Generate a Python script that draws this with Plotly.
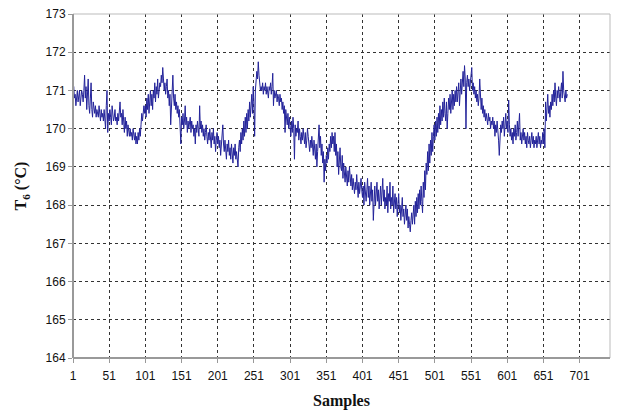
import plotly.graph_objects as go

# Samples 1..684, temperature T6 (°C)
t6_values = [
    171.0, 171.1, 170.8, 170.9, 170.6, 170.8, 171.0, 170.7, 170.9, 171.0,
    170.6, 170.8, 171.0, 170.9, 170.7, 171.0, 171.4, 170.8, 171.1, 170.5,
    170.9, 171.3, 170.6, 170.4, 170.8, 171.2, 170.5, 170.3, 170.7, 170.5,
    170.4, 170.6, 170.3, 170.5, 170.4, 170.3, 170.6, 170.4, 170.2, 170.5,
    170.3, 170.4, 170.2, 170.5, 170.3, 170.0, 170.6, 171.0, 169.9, 170.4,
    170.2, 170.5, 170.3, 170.1, 170.6, 170.4, 170.2, 170.3, 170.5, 170.2,
    170.3, 170.1, 170.4, 170.2, 170.5, 170.7, 170.3, 170.4, 170.1, 170.5,
    170.2, 169.9, 170.3, 170.0, 170.2, 169.8, 170.1, 169.9, 169.8, 170.0,
    169.8, 169.9, 169.7, 170.0, 169.8, 169.7, 169.9, 169.6, 169.8, 169.6,
    169.9, 169.7, 170.0, 169.8, 170.1, 170.4, 170.2, 170.5, 170.6, 170.4,
    170.6, 170.3, 170.8, 170.5, 170.9, 170.4, 170.7, 171.0, 170.6, 170.9,
    170.5, 171.0, 170.8, 171.2, 170.7, 171.1, 170.9, 171.3, 170.8, 171.2,
    171.2, 171.1, 171.4, 171.2, 171.6, 171.3, 171.0, 171.2, 170.9, 171.1,
    171.3, 170.8, 171.0, 170.6, 170.9, 170.1, 170.7, 171.2, 171.4, 170.8,
    170.6, 170.9, 170.5, 170.7, 170.4, 170.6, 170.3, 170.5, 170.2, 169.6,
    170.3, 170.1, 170.4, 170.0, 170.2, 170.6, 170.1, 170.3, 169.9, 170.2,
    170.0, 170.1, 170.3, 169.9, 170.2, 170.0, 170.1, 169.8, 170.0, 169.6,
    170.1, 169.9, 170.2, 170.0, 169.8, 170.6, 170.0, 170.2, 169.9, 170.1,
    169.8, 170.0, 169.7, 169.9, 170.1, 169.8, 169.6, 169.9, 169.7, 170.0,
    169.8, 169.5, 169.9, 169.7, 170.0, 169.6, 169.8, 169.4, 169.7, 169.9,
    169.6, 169.8, 169.5, 169.7, 169.3, 169.6, 169.9, 170.1, 169.6, 169.4,
    169.7, 169.5, 169.2, 169.6, 169.4, 169.7, 169.3, 169.5, 169.2, 169.6,
    169.4, 169.1, 169.5, 169.3, 169.6, 169.2, 169.4, 169.1, 169.0, 169.5,
    169.7, 169.4, 169.9, 169.6, 170.0, 169.7, 170.2, 169.8, 170.3, 169.9,
    170.4, 170.0, 170.5, 170.2, 170.7, 170.3, 170.6, 170.9, 170.4, 171.1,
    170.6, 169.8, 171.0, 171.2, 171.5, 171.3, 171.75, 171.4, 171.2, 171.0,
    171.1, 171.0, 171.2, 170.9, 171.1, 171.0, 171.2, 170.9, 171.1, 171.0,
    170.8, 171.1, 171.0, 171.2, 170.9, 171.1, 171.45, 170.6, 171.0, 170.8,
    170.9, 171.0, 170.7, 170.9, 170.8, 170.6, 170.9, 170.7, 170.8, 170.5,
    170.7, 170.4, 170.6, 169.9, 170.5, 170.3, 170.1, 170.4, 170.0, 170.3,
    170.1, 169.8, 170.2, 169.9, 170.3, 170.0, 169.2, 170.1, 169.8, 170.0,
    169.9, 170.2, 169.7, 170.0, 169.8, 169.6, 169.9, 169.7, 170.0, 169.8,
    169.6, 169.9, 169.5, 169.7, 170.0, 169.8, 169.6, 169.4, 169.7, 169.5,
    169.8, 169.6, 169.3, 169.7, 169.5, 169.2, 169.6, 169.0, 169.4, 169.7,
    170.1, 169.5, 169.8, 169.3, 169.6, 169.1, 169.4, 168.6, 169.2, 168.9,
    169.3, 169.1, 169.5, 169.2, 169.6, 169.4, 169.8, 169.5, 169.9, 169.6,
    169.8, 169.4, 169.9, 169.3, 169.6, 169.0, 169.4, 168.8, 169.2, 169.5,
    169.0, 168.9, 169.3, 168.7, 169.1, 168.9, 168.6, 169.0, 168.8, 168.5,
    168.9, 168.6, 169.0, 168.7, 168.5, 168.8, 168.4, 168.7, 168.5, 168.3,
    168.6, 168.4, 168.8, 168.5, 168.2, 168.6, 168.3, 168.5, 168.7, 168.4,
    168.2, 168.5, 168.0, 168.6, 168.3, 168.1, 168.4, 168.7, 168.2, 168.5,
    168.0, 168.3, 168.6, 168.1, 168.4, 167.6, 168.2, 168.5, 168.0, 168.3,
    168.6, 168.1, 168.4, 167.9, 168.2, 168.5, 168.0, 168.3, 168.7, 168.1,
    168.4, 167.9, 168.2, 168.0, 168.5, 167.8, 168.3, 168.1, 168.6, 167.9,
    168.2, 168.0, 168.5, 167.8, 168.1, 168.3, 167.9, 168.2, 167.7, 168.0,
    168.3, 167.8, 168.0, 167.6, 167.9, 168.2, 167.7, 167.9, 167.5, 167.8,
    168.0, 167.6, 167.9, 167.4, 167.7, 167.5, 167.3, 167.6, 167.8, 167.5,
    167.7, 168.0, 167.5, 168.1, 167.7, 168.2, 167.8, 168.3, 167.9, 168.4,
    168.0, 168.5, 168.1, 167.8, 168.6, 168.2, 168.9, 168.4, 169.1, 168.8,
    169.4, 168.9, 169.6, 169.1, 169.7, 169.3, 169.9, 169.4, 169.8, 170.1,
    169.7, 170.2, 169.8, 170.3, 169.9, 170.4, 170.0, 170.6, 170.1, 170.5,
    170.2, 170.7, 170.3, 170.8, 170.4, 170.2, 170.7, 170.0, 170.4, 170.8,
    170.5, 170.9, 170.4, 170.8, 171.0, 170.5, 170.9, 170.6, 171.0, 170.7,
    171.1, 170.7, 171.0, 171.2, 170.6, 171.1, 171.3, 170.9, 171.2, 171.5,
    171.1, 171.65, 171.3, 170.0, 171.2, 171.4, 171.1, 171.3, 171.0, 171.2,
    171.4, 171.6, 171.0, 171.2, 170.9, 171.1, 170.8, 171.0, 170.7, 170.9,
    170.6, 170.8, 171.3, 170.7, 170.5, 170.8, 170.4, 170.6, 170.3, 170.5,
    170.2, 170.4, 170.3, 170.1, 170.4, 170.2, 170.3, 170.0, 170.2, 170.1,
    170.3, 170.0, 170.2, 169.8, 170.1, 169.9, 170.2, 170.0, 169.7, 169.3,
    169.8, 170.1, 169.9, 170.2, 170.0, 170.3, 169.8, 170.1, 170.4, 170.0,
    170.2, 169.9, 170.75, 170.1, 169.8, 170.0, 169.7, 169.9, 169.6, 170.0,
    169.8, 170.1, 169.7, 169.9, 170.2, 169.8, 170.0, 170.4, 169.7, 169.9,
    169.6, 169.8, 170.0, 169.7, 169.9, 169.6, 169.8, 169.5, 169.9, 169.7,
    169.6, 169.8, 169.5, 169.7, 169.9, 169.6, 169.8, 169.5, 169.7, 169.6,
    169.8, 169.5, 169.7, 169.9, 169.6, 169.8, 169.5, 169.7, 169.6, 169.9,
    169.6, 170.0, 169.5, 170.7, 170.2, 170.5, 170.9, 170.4, 170.6, 170.3,
    170.7, 170.5, 170.9, 170.6, 171.0, 170.7, 171.2, 170.8, 170.6, 171.0,
    170.8, 171.1, 170.9, 170.7, 171.0, 171.2, 170.8, 171.5, 171.0, 170.9,
    170.7, 171.0, 170.8, 170.9,
]
samples = list(range(1, len(t6_values) + 1))

x_ticks = list(range(1, 702, 50))
y_ticks = list(range(164, 174))

fig = go.Figure()
fig.add_trace(go.Scatter(
    x=samples, y=t6_values, mode="lines",
    line=dict(color="#23239a", width=1),
    showlegend=False,
))

axis_font = dict(family="Liberation Sans, Arial, sans-serif", size=12, color="#111")
title_font = dict(family="Liberation Serif, Times New Roman, serif", size=16, color="#111")

fig.update_layout(
    width=617, height=417,
    margin=dict(l=73, r=7, t=14, b=59),
    paper_bgcolor="white", plot_bgcolor="white",
    xaxis=dict(
        range=[1, 743], tickmode="array", tickvals=x_ticks,
        ticktext=[str(v) for v in x_ticks],
        showgrid=True, gridcolor="#333", griddash="dot", gridwidth=1,
        zeroline=False, showline=False,
        ticks="outside", ticklen=4, tickcolor="#999", tickwidth=1,
        ticklabelstandoff=3,
        tickfont=axis_font,
        title=dict(text="<b>Samples</b>", font=title_font, standoff=12),
    ),
    yaxis=dict(
        range=[164, 173], tickmode="array", tickvals=y_ticks,
        showgrid=True, gridcolor="#333", griddash="dot", gridwidth=1,
        zeroline=False, showline=False,
        ticks="outside", ticklen=4, tickcolor="#999", tickwidth=1,
        tickfont=axis_font,
        title=dict(text="<b>T<sub>6</sub> (°C)</b>", font=title_font, standoff=14),
    ),
    shapes=[
        dict(type="line", xref="paper", yref="paper", x0=0, x1=1, y0=1, y1=1,
             line=dict(color="#bbb", width=1)),
        dict(type="line", xref="paper", yref="paper", x0=1, x1=1, y0=0, y1=1,
             line=dict(color="#bbb", width=1)),
        dict(type="line", xref="paper", yref="paper", x0=0, x1=1, y0=0, y1=0,
             line=dict(color="#999", width=2)),
        dict(type="line", xref="paper", yref="paper", x0=0, x1=0, y0=0, y1=1,
             line=dict(color="#999", width=2)),
    ],
)

fig.write_html("out.html")
